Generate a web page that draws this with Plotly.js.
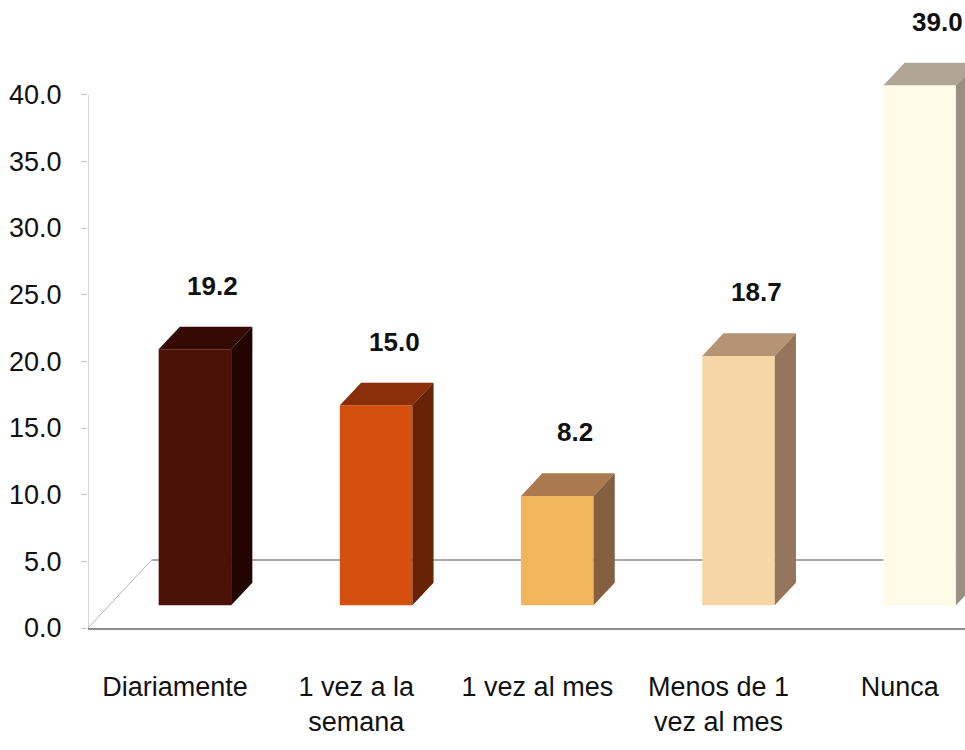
<!DOCTYPE html>
<html>
<head>
<meta charset="utf-8">
<script src="https://cdn.plot.ly/plotly-3.0.1.min.js"></script>
<style>html,body{margin:0;padding:0;background:#fff;}#chart{width:965px;height:750px;}</style>
</head>
<body>
<div id="chart"></div>
<script>
const categories = ["Diariamente", "1 vez a la<br>semana", "1 vez al mes", "Menos de 1<br>vez al mes", "Nunca"];
const values = [19.2, 15.0, 8.2, 18.7, 39.0];
const labels = ["19.2", "15.0", "8.2", "18.7", "39.0"];
const yTicks = [0, 5, 10, 15, 20, 25, 30, 35, 40];
const frontColors = ["#4c1208", "#d4500c", "#f1b65c", "#f7d6a6", "#fffbe8"];
const topColors = ["#340a03", "#8a2e0a", "#a87a4e", "#b49474", "#b0a696"];
const sideColors = ["#220501", "#682206", "#846040", "#96765a", "#9a9084"];

const DX = 0.117, DY = 1.7, SHIFT = 0.11, W = 0.40;
const XMIN = -0.48, XMAX = 4.36;
const FONT = '"Liberation Sans", Arial, sans-serif';
const idx = categories.map((c, i) => i);
const xs = idx.map(i => i + SHIFT);

const shapes = [];
shapes.push({type:'line', xref:'x', yref:'y', x0:XMIN, y0:0, x1:XMIN+3*DX, y1:3*DY, line:{color:'#b4b4b4', width:1}, layer:'below'});
shapes.push({type:'line', xref:'x', yref:'y', x0:XMIN+3*DX, y0:3*DY, x1:XMAX, y1:3*DY, line:{color:'#8c8c8c', width:1.5}, layer:'below'});
shapes.push({type:'line', xref:'x', yref:'y', x0:XMIN, y0:0, x1:XMIN, y1:40, line:{color:'#c8c8c8', width:1.5}, layer:'below'});
xs.forEach((x, i) => {
  const l = x - W/2, r = x + W/2, t = DY + values[i];
  shapes.push({type:'path', xref:'x', yref:'y', layer:'above', line:{width:0},
    fillcolor: topColors[i],
    path:`M ${l} ${t} L ${l+DX} ${t+DY} L ${r+DX} ${t+DY} L ${r} ${t} Z`});
  shapes.push({type:'path', xref:'x', yref:'y', layer:'above', line:{width:0},
    fillcolor: sideColors[i],
    path:`M ${r} ${t} L ${r+DX} ${t+DY} L ${r+DX} ${DY+DY} L ${r} ${DY} Z`});
});

const annotations = xs.map((x, i) => ({
  x: x + DX*0.85, y: values[i] + 2*DY, xref:'x', yref:'y', text: labels[i],
  showarrow:false, yanchor:'bottom', yshift: 24,
  font:{family:FONT, size:26, color:'#111', weight:'bold'}
}));

const trace = {
  type:'bar', x: xs, y: values, base: DY, width: W,
  marker:{color: frontColors, line:{width:0}},
  hoverinfo:'skip', cliponaxis:false
};

const layout = {
  width:965, height:750,
  margin:{l:88, r:0, t:0, b:122},
  paper_bgcolor:'#fff', plot_bgcolor:'#fff',
  showlegend:false,
  xaxis:{range:[XMIN, XMAX], tickvals: idx, ticktext: categories, showgrid:false, zeroline:false,
    showline:true, linecolor:'#8a8a8a', linewidth:1.5, ticks:'', ticklabelstandoff:34,
    tickfont:{family:FONT, size:27, color:'#111'}},
  yaxis:{range:[0, 47.1], tickvals: yTicks, tickformat:'.1f', showgrid:false, zeroline:false,
    showline:false, ticks:'outside', ticklen:6, tickcolor:'#c8c8c8', ticklabelstandoff:14,
    tickfont:{family:FONT, size:27, color:'#111'}},
  shapes, annotations
};

Plotly.newPlot('chart', [trace], layout, {staticPlot:true, displayModeBar:false});
</script>
</body>
</html>
